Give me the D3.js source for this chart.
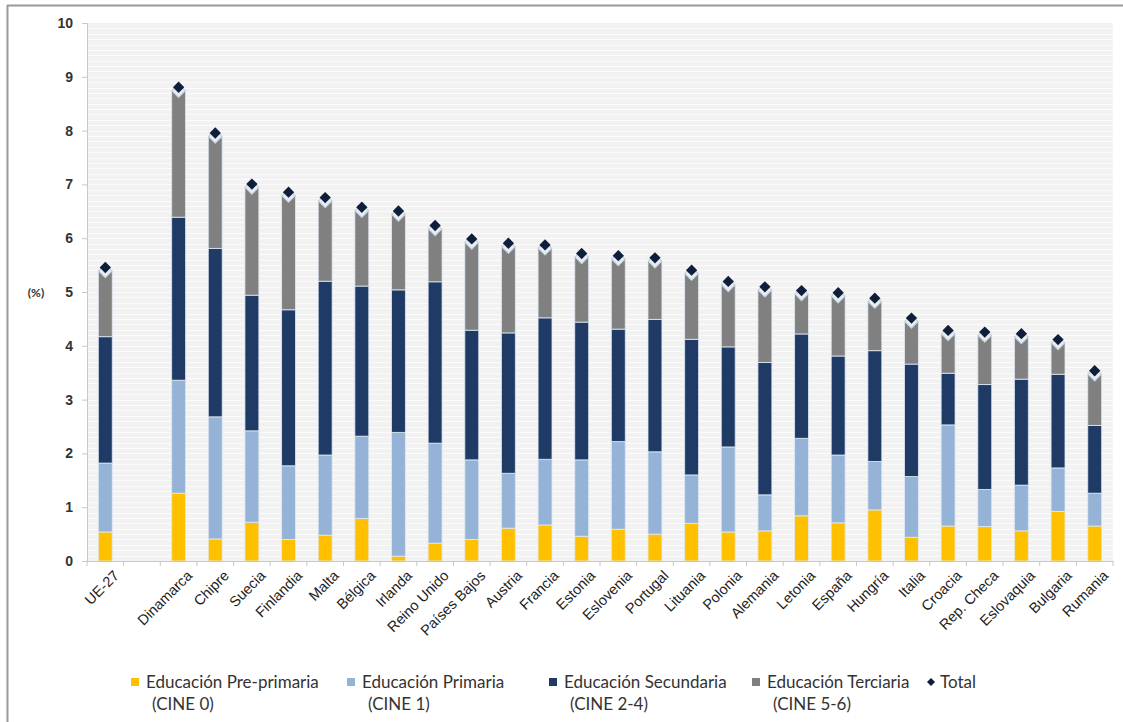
<!DOCTYPE html>
<html>
<head>
<meta charset="utf-8">
<script src="https://cdn.jsdelivr.net/npm/d3@7"></script>
<style>
  html, body { margin: 0; padding: 0; background: #fff; }
  svg { display: block; font-family: Lato, "Open Sans", "DejaVu Sans", sans-serif; }
</style>
</head>
<body>
<svg id="chart" width="1123" height="722"></svg>
<script>
// ---- Data ----
const categories = ["UE-27", "", "Dinamarca", "Chipre", "Suecia", "Finlandia", "Malta", "Bélgica", "Irlanda",
  "Reino Unido", "Países Bajos", "Austria", "Francia", "Estonia", "Eslovenia", "Portugal", "Lituania",
  "Polonia", "Alemania", "Letonia", "España", "Hungría", "Italia", "Croacia", "Rep. Checa", "Eslovaquia",
  "Bulgaria", "Rumania"];

const preprimaria = [0.54, null, 1.26, 0.41, 0.72, 0.40, 0.48, 0.79, 0.09, 0.33, 0.40, 0.61, 0.67, 0.46, 0.59, 0.50, 0.70, 0.54, 0.56, 0.84, 0.71, 0.95, 0.44, 0.65, 0.64, 0.56, 0.92, 0.65];
const primaria    = [1.28, null, 2.10, 2.27, 1.70, 1.37, 1.49, 1.53, 2.30, 1.86, 1.48, 1.02, 1.22, 1.42, 1.63, 1.53, 0.90, 1.58, 0.67, 1.44, 1.26, 0.90, 1.13, 1.88, 0.69, 0.85, 0.81, 0.61];
const secundaria  = [2.35, null, 3.03, 3.13, 2.52, 2.90, 3.23, 2.79, 2.65, 3.00, 2.41, 2.61, 2.63, 2.56, 2.09, 2.46, 2.52, 1.86, 2.46, 1.94, 1.84, 2.06, 2.09, 0.96, 1.95, 1.97, 1.74, 1.26];
const terciaria   = [1.23, null, 2.36, 2.09, 2.01, 2.13, 1.50, 1.41, 1.41, 0.99, 1.64, 1.61, 1.30, 1.22, 1.31, 1.09, 1.23, 1.16, 1.35, 0.75, 1.12, 0.92, 0.80, 0.74, 0.92, 0.79, 0.59, 0.96];
const total       = [5.40, null, 8.75, 7.90, 6.95, 6.80, 6.70, 6.52, 6.45, 6.18, 5.93, 5.85, 5.82, 5.66, 5.62, 5.58, 5.35, 5.14, 5.04, 4.97, 4.93, 4.83, 4.46, 4.23, 4.20, 4.17, 4.06, 3.48];

const yTicks = [0, 1, 2, 3, 4, 5, 6, 7, 8, 9, 10];

const seriesKeys = ["pre", "prim", "sec", "ter"];
const seriesNames = [
  ["Educación Pre-primaria", "(CINE 0)"],
  ["Educación Primaria", "(CINE 1)"],
  ["Educación Secundaria", "(CINE 2-4)"],
  ["Educación Terciaria", "(CINE 5-6)"]
];
const colors = ["#FFC000", "#95B3D7", "#1F3A64", "#808080"];
const totalColor = "#0F1E3A";

// ---- Build table ----
const rows = categories.map((c, i) => ({
  key: i, cat: c,
  pre: preprimaria[i] || 0, prim: primaria[i] || 0, sec: secundaria[i] || 0, ter: terciaria[i] || 0,
  total: total[i]
}));

const svg = d3.select("#chart");
const W = 1123, H = 722;
const plot = { left: 87, right: 1113, top: 23, bottom: 561 };

const x = d3.scaleBand().domain(rows.map(d => d.key)).range([plot.left, plot.right]).paddingInner(0.62).paddingOuter(0.31);
const y = d3.scaleLinear().domain([0, 10]).range([plot.bottom, plot.top]);

// outer frame
svg.append("line").attr("x1", 7).attr("x2", W).attr("y1", 5.5).attr("y2", 5.5).attr("stroke", "#9a9a9a").attr("stroke-width", 2);
svg.append("line").attr("x1", 7.5).attr("x2", 7.5).attr("y1", 5).attr("y2", H).attr("stroke", "#9a9a9a").attr("stroke-width", 2);

// plot background
svg.append("rect").attr("x", plot.left).attr("y", plot.top).attr("width", plot.right - plot.left).attr("height", plot.bottom - plot.top).attr("fill", "#f2f2f2");
// faint stripes
const stripes = d3.range(0, 10, 0.1);
svg.append("g").selectAll("line").data(stripes).join("line")
  .attr("x1", plot.left).attr("x2", plot.right)
  .attr("y1", d => Math.round(y(d)) + 0.5).attr("y2", d => Math.round(y(d)) + 0.5)
  .attr("stroke", "#fbfbfb").attr("stroke-width", 1);

// stacked bars
const stack = d3.stack().keys(seriesKeys);
const stacked = stack(rows);

const barsG = svg.append("g");
stacked.forEach((layer, li) => {
  barsG.append("g").selectAll("rect").data(layer.filter(d => d.data.total !== null)).join("rect")
    .attr("x", d => x(d.data.key))
    .attr("width", x.bandwidth())
    .attr("y", d => y(d[1]))
    .attr("height", d => Math.max(0, y(d[0]) - y(d[1])))
    .attr("fill", colors[li])
    .attr("stroke", "rgba(225,235,245,0.8)")
    .attr("stroke-width", 1);
});

// y axis
const yAxis = d3.axisLeft(y).tickValues(yTicks).tickSize(5).tickPadding(9);
const yg = svg.append("g").attr("transform", `translate(${plot.left},0)`).call(yAxis);
yg.select(".domain").attr("stroke", "#c8c8c8");
yg.selectAll(".tick line").attr("stroke", "#c8c8c8");
yg.selectAll(".tick text").attr("font-size", 14).attr("font-weight", "bold").attr("fill", "#333");

svg.append("text").attr("x", 36).attr("y", 297).attr("text-anchor", "middle")
  .attr("font-size", 12).attr("font-weight", "bold").attr("fill", "#333").text("(%)");

// x axis
const xAxis = d3.axisBottom(x).tickSize(0).tickFormat(k => categories[k]);
const xg = svg.append("g").attr("transform", `translate(0,${plot.bottom})`).call(xAxis);
xg.select(".domain").attr("stroke", "#c8c8c8");
xg.selectAll(".tick text")
  .attr("font-size", 14.5).attr("fill", "#222")
  .attr("text-anchor", "end")
  .attr("transform", "translate(11,12) rotate(-45)")
  .attr("dy", "0.35em").attr("y", 0).attr("x", 0);
// category boundary ticks
const step = x.step();
const boundaries = d3.range(rows.length + 1).map(i => plot.left + i * step);
xg.append("g").selectAll("line").data(boundaries).join("line")
  .attr("x1", d => d).attr("x2", d => d).attr("y1", 0).attr("y2", 5)
  .attr("stroke", "#c8c8c8");

// total diamonds (rotated squares)
const sq = d3.symbol().type(d3.symbolSquare);
const dg = svg.append("g");
const tot = rows.filter(d => d.total !== null);
dg.selectAll("path.halo").data(tot).join("path").attr("class", "halo")
  .attr("d", sq.size(90)())
  .attr("transform", d => `translate(${x(d.key) + x.bandwidth() / 2},${y(d.total) + 0.5}) rotate(45)`)
  .attr("fill", "#e6edf4").attr("stroke", "#c3cfdc").attr("stroke-width", 1);
dg.selectAll("path.mk").data(tot).join("path").attr("class", "mk")
  .attr("d", d3.symbol().type(d3.symbolSquare).size(64)())
  .attr("transform", d => `translate(${x(d.key) + x.bandwidth() / 2},${y(d.total) - 3}) rotate(45)`)
  .attr("fill", totalColor);

// legend
const legendX = [131, 347, 549, 752];
const lg = svg.append("g");
seriesNames.forEach((nm, i) => {
  const g = lg.append("g").attr("transform", `translate(${legendX[i]},0)`);
  g.append("rect").attr("x", 0).attr("y", 678).attr("width", 8).attr("height", 8).attr("fill", colors[i]);
  g.append("text").attr("x", 15).attr("y", 688).attr("font-size", 17).attr("fill", "#333").text(nm[0]);
  g.append("text").attr("x", 21).attr("y", 710).attr("font-size", 17).attr("fill", "#333").text(nm[1]);
});
const tg = lg.append("g").attr("transform", "translate(931,682)");
tg.append("path").attr("d", d3.symbol().type(d3.symbolSquare).size(32)()).attr("transform", "rotate(45)").attr("fill", totalColor);
tg.append("text").attr("x", 9).attr("y", 6).attr("font-size", 17).attr("fill", "#333").text("Total");
</script>
</body>
</html>
